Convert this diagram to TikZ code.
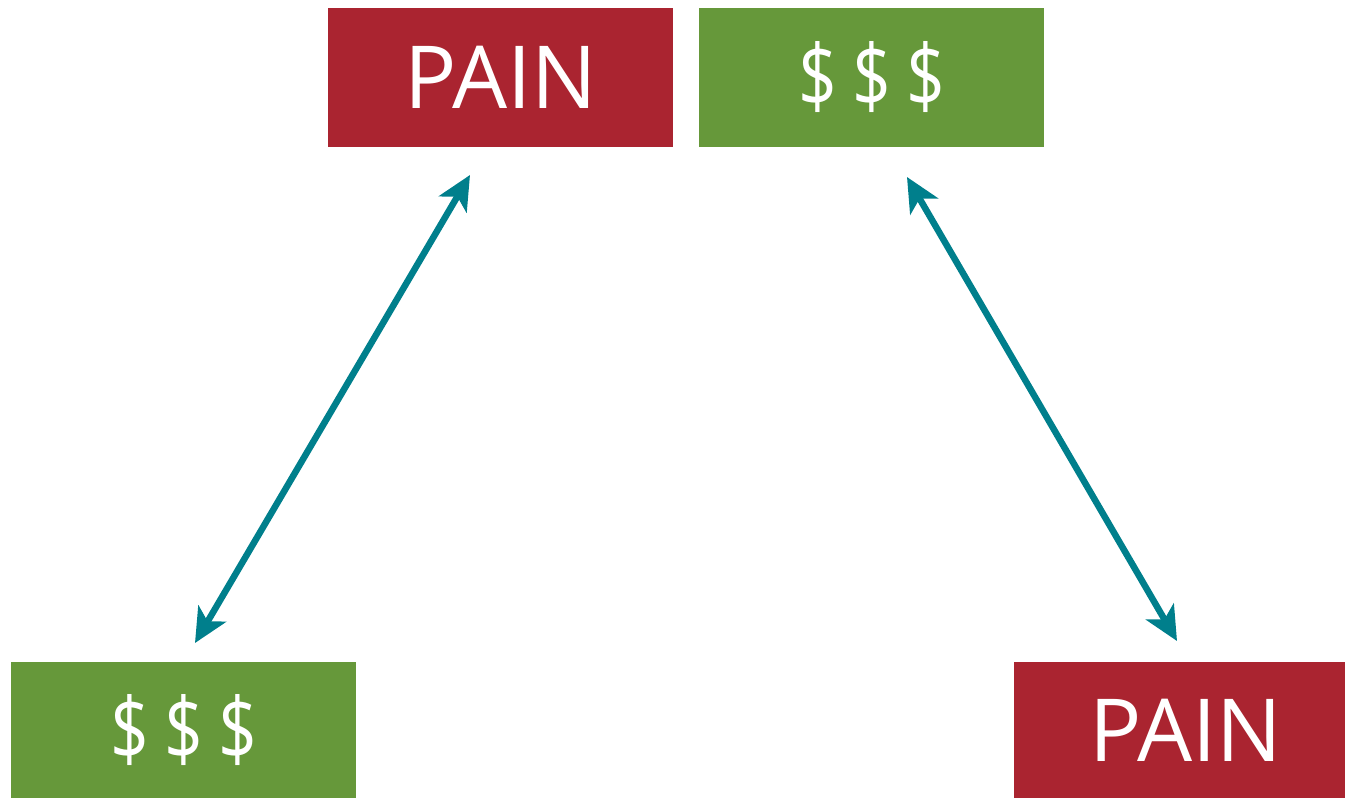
\documentclass[tikz,border=0pt]{standalone}
\usepackage{fontspec}
\usepackage{graphicx}
\setmainfont{Open Sans}
\usetikzlibrary{arrows.meta}
\definecolor{painred}{HTML}{AA2430}
\definecolor{moneygreen}{HTML}{66983A}
\definecolor{arrowteal}{HTML}{007F8C}
\newcommand{\onedollar}{\makebox[54pt]{\scalebox{0.78}[1.0]{\$}}}
\newcommand{\dollars}{\onedollar\onedollar\onedollar}
\begin{document}
\begin{tikzpicture}[x=1pt,y=-1pt,
  box/.style={inner sep=0pt, text=white, font=\fontsize{87}{87}\selectfont, anchor=center},
  painbox/.style={box, fill=painred},
  moneybox/.style={box, fill=moneygreen},
  link/.style={draw=arrowteal, line width=6.5pt, {Stealth[length=34pt,width=32pt,inset=9pt]}-{Stealth[length=34pt,width=32pt,inset=9pt]}}]
\useasboundingbox (0,0) rectangle (1345,798);
\node[painbox, minimum width=345pt, minimum height=139pt] (p1) at (500.5,77.5) {\raisebox{-2pt}{PAIN}};
\node[moneybox, minimum width=345pt, minimum height=139pt] (m1) at (871.5,77.5) {\dollars};
\node[moneybox, minimum width=345pt, minimum height=136pt] (m2) at (183.5,730) {\dollars};
\node[painbox, minimum width=331pt, minimum height=136pt] (p2) at (1179.5,730) {\hspace{12pt}\raisebox{-2pt}{PAIN}};
\coordinate (a1) at (195,643);
\coordinate (a2) at (470,175);
\coordinate (b1) at (907,177);
\coordinate (b2) at (1177,641);
\draw[link] (a1) -- (a2);
\draw[link] (b1) -- (b2);
\end{tikzpicture}
\end{document}
